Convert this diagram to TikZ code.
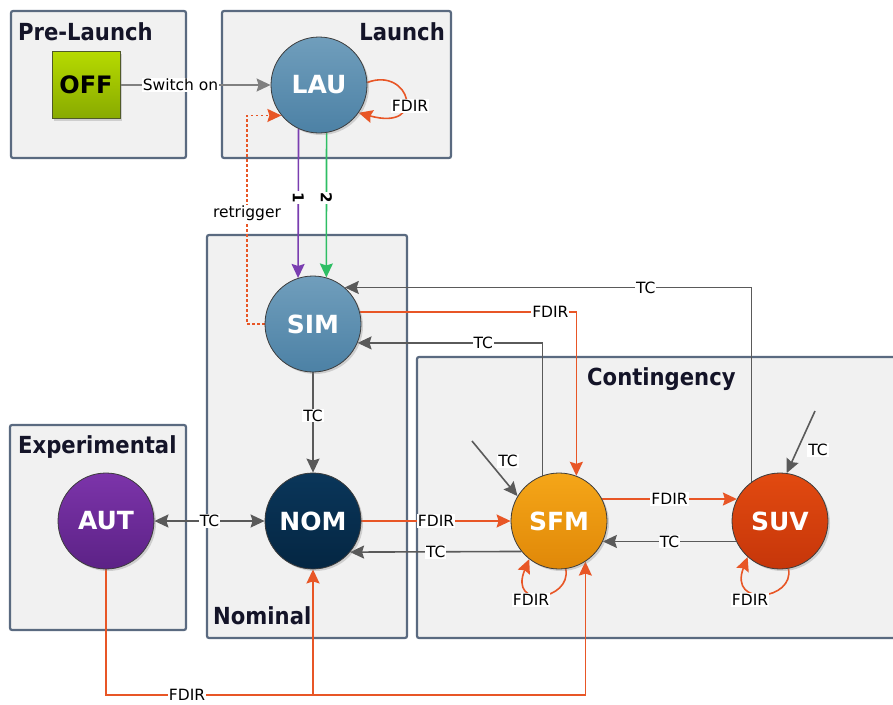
\documentclass[tikz,border=0pt]{standalone}
\usepackage{fontspec}
\setmainfont{DejaVu Sans}
\newfontfamily\titlefont[FakeStretch=0.9]{DejaVu Sans}
\usetikzlibrary{arrows.meta,shadows}
\definecolor{grpfill}{RGB}{241,241,241}
\definecolor{grpbd}{RGB}{90,106,128}
\definecolor{titlec}{RGB}{20,20,40}
\definecolor{tcline}{RGB}{90,90,90}
\definecolor{swline}{RGB}{128,128,128}
\definecolor{fdirc}{RGB}{232,86,38}
\definecolor{purp}{RGB}{122,62,176}
\definecolor{grn}{RGB}{46,190,100}
\definecolor{statebd}{RGB}{60,60,60}
\definecolor{bluetop}{RGB}{112,158,188}
\definecolor{bluebot}{RGB}{76,129,165}
\definecolor{nomtop}{RGB}{10,54,90}
\definecolor{nombot}{RGB}{4,38,66}
\definecolor{auttop}{RGB}{124,52,170}
\definecolor{autbot}{RGB}{92,34,134}
\definecolor{sfmtop}{RGB}{245,166,24}
\definecolor{sfmbot}{RGB}{224,136,8}
\definecolor{suvtop}{RGB}{226,74,16}
\definecolor{suvbot}{RGB}{198,54,10}
\definecolor{offtop}{RGB}{182,218,0}
\definecolor{offbot}{RGB}{136,170,0}
\definecolor{offbd}{RGB}{80,90,40}
\pgfdeclarelayer{bg}
\pgfdeclarelayer{lines}
\pgfsetlayers{bg,lines,main}
\tikzset{
  >={Stealth[length=14pt,width=13pt,inset=2pt]},
  grp/.style={draw=grpbd, line width=2.2pt, fill=grpfill, rounded corners=2pt},
  grptitle/.style={font=\titlefont\bfseries\fontsize{23.5}{26}\selectfont, text=titlec, inner sep=0pt},
  state/.style={circle, draw=statebd, line width=0.8pt, minimum size=96pt, inner sep=0pt,
    text=white, font=\bfseries\fontsize{25}{28}\selectfont,
    drop shadow={shadow xshift=2pt, shadow yshift=-2pt, opacity=0.3}},
  lbl/.style={fill=white, inner sep=1pt, text=black, font=\fontsize{15.5}{17}\selectfont},
  gline/.style={draw=tcline, line width=1.6pt, ->},
  fline/.style={draw=fdirc, line width=1.6pt, ->},
}
\begin{document}
\begin{tikzpicture}[x=1pt,y=-1pt]
\useasboundingbox (0,0) rectangle (893,704);
% states
\node[rectangle, draw=offbd, line width=1pt, minimum width=68pt, minimum height=67pt,
  top color=offtop, bottom color=offbot, text=black, font=\bfseries\fontsize{24}{28}\selectfont,
  drop shadow={shadow xshift=2pt, shadow yshift=-2pt, opacity=0.3}] (OFF) at (86,85) {OFF};
\node[state, top color=bluetop, bottom color=bluebot] (LAU) at (319,85) {LAU};
\node[state, top color=bluetop, bottom color=bluebot] (SIM) at (313,324) {SIM};
\node[state, top color=nomtop, bottom color=nombot] (NOM) at (313,521) {NOM};
\node[state, top color=auttop, bottom color=autbot] (AUT) at (106,521) {AUT};
\node[state, top color=sfmtop, bottom color=sfmbot] (SFM) at (559,521) {SFM};
\node[state, top color=suvtop, bottom color=suvbot] (SUV) at (780,521) {SUV};
% titles
\node[grptitle, anchor=base west] (tPre) at (18,40) {Pre-Launch};
\node[grptitle, anchor=base east] (tLau) at (445,40) {Launch};
\node[grptitle, anchor=base west] (tExp) at (18,453) {Experimental};
\node[grptitle, anchor=base west] (tNom) at (213,624) {Nominal};
\node[grptitle, anchor=base west] (tCon) at (587,385) {Contingency};
\begin{pgfonlayer}{bg}
\draw[grp] (11,11) rectangle (186,158);
\draw[grp] (222,11) rectangle (451,158);
\draw[grp] (207,235) rectangle (407,638);
\draw[grp] (10,425) rectangle (186,630);
\draw[grp] (417,357) rectangle (910,638);
\end{pgfonlayer}
\begin{pgfonlayer}{lines}
\draw[gline, draw=swline] (OFF) -- node[lbl, pos=0.4] {Switch on} (LAU);
\draw[fline] (LAU.3) .. controls (410,66) and (428,132) .. (LAU.-35);
\node[lbl] (fl0) at (410,106) {FDIR};
\draw[draw=purp, line width=1.6pt, ->] (LAU.245) -- node[lbl, pos=0.46, rotate=-90, font=\bfseries\fontsize{15}{17}\selectfont] {1} (SIM.108);
\draw[draw=grn, line width=1.6pt, ->] (LAU.279) -- node[lbl, pos=0.45, rotate=-90, font=\bfseries\fontsize{15}{17}\selectfont] {2} (SIM.74);
\coordinate (rt) at (247,213);
\draw[fline, dash pattern=on 2.5pt off 2.5pt, line width=1.8pt] (SIM.west) -| (rt) |- (LAU.219);
\node[lbl] (rtl) at (rt) {retrigger};
\draw[gline] (SUV.126) |- node[lbl, pos=0.63] {TC} (SIM.49);
\draw[fline] (SIM.14) -| node[lbl, pos=0.44] {FDIR} (SFM.69);
\draw[gline] (SFM.110) |- node[lbl, pos=0.66] {TC} (SIM.-23);
\draw[gline] (SIM) -- node[lbl, pos=0.43] {TC} (NOM);
\draw[gline, <->] (AUT) -- node[lbl] {TC} (NOM);
\draw[fline] (NOM) -- node[lbl] {FDIR} (SFM);
\draw[gline] (SFM.219) -- node[lbl] {TC} (NOM.-40);
\draw[fline] (SFM.27) -- node[lbl] {FDIR} (SUV.153);
\draw[gline] (SUV.205) -- node[lbl] {TC} (SFM.-25);
\coordinate (tcA) at (472,441);
\draw[gline] (tcA) -- (SFM.149);
\node[lbl] (tcAl) at (508,461) {TC};
\coordinate (tcB) at (815,411);
\draw[gline] (tcB) -- (SUV.82);
\node[lbl] (tcBl) at (818,450) {TC};
\draw[fline] (SFM.-82) .. controls (572,600) and (508,610) .. (SFM.232);
\node[lbl] (fl1) at (531,600) {FDIR};
\draw[fline] (SUV.-80) .. controls (795,600) and (728,608) .. (SUV.228);
\node[lbl] (fl2) at (750,600) {FDIR};
\coordinate (fb) at (0,695);
\draw[fline] (AUT.south) |- (SFM.-57 |- fb) -- (SFM.-57);
\draw[fline] (NOM.south |- fb) -- (NOM.south);
\node[lbl] (fl3) at (187,695) {FDIR};
\end{pgfonlayer}
\end{tikzpicture}
\end{document}
